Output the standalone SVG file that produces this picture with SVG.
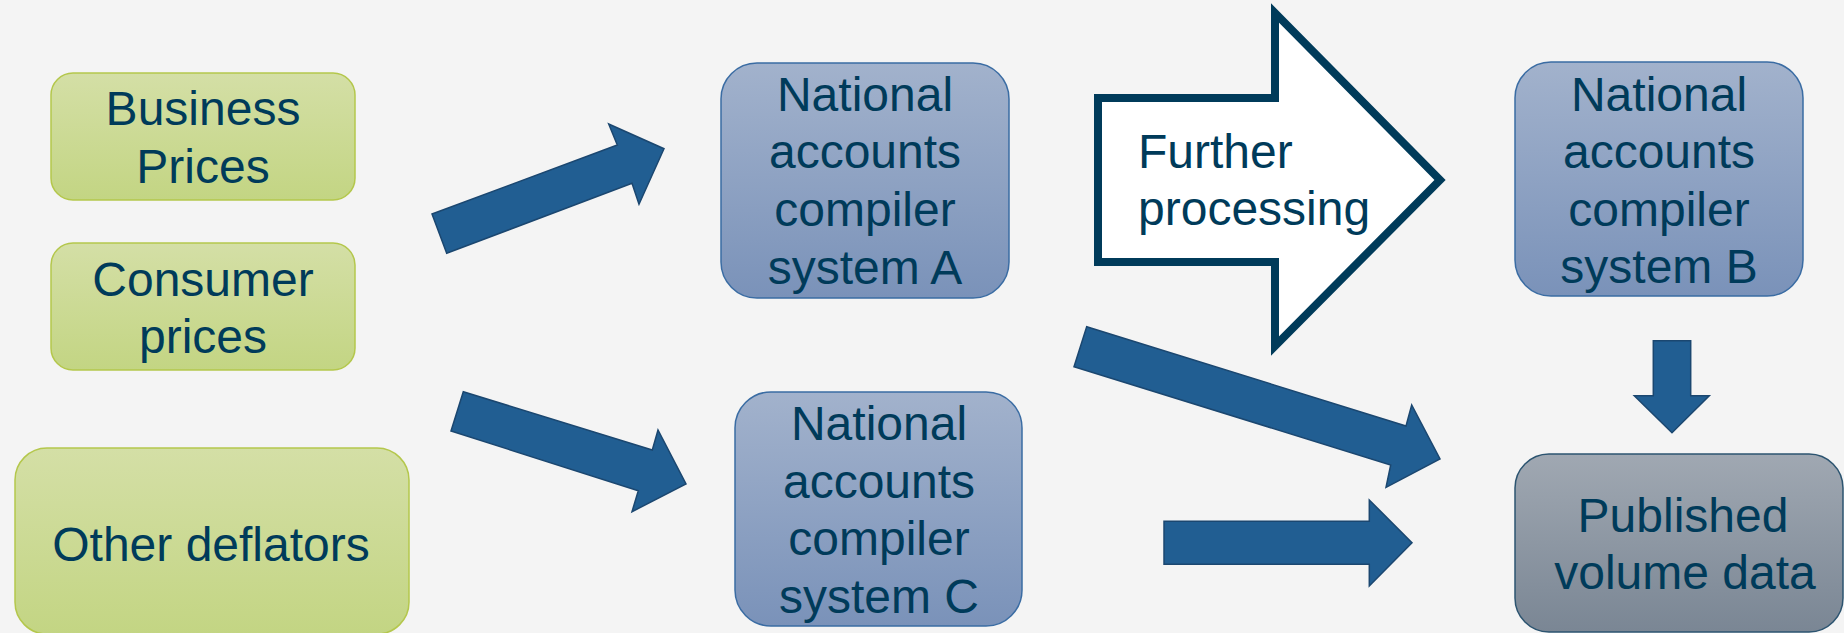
<svg xmlns="http://www.w3.org/2000/svg" width="1844" height="633" viewBox="0 0 1844 633">
<defs>
<linearGradient id="gGreen" x1="0" y1="0" x2="0" y2="1"><stop offset="0" stop-color="#d4dfa6"/><stop offset="1" stop-color="#c3d583"/></linearGradient>
<linearGradient id="gBlue" x1="0" y1="0" x2="0" y2="1"><stop offset="0" stop-color="#a2b2cc"/><stop offset="1" stop-color="#7a92b9"/></linearGradient>
<linearGradient id="gGray" x1="0" y1="0" x2="0" y2="1"><stop offset="0" stop-color="#a0a8b2"/><stop offset="1" stop-color="#7a8694"/></linearGradient>
<style>
.t{font-family:"Liberation Sans",Arial,sans-serif;font-size:48px;fill:#003b5a;text-anchor:middle}
.tl{font-family:"Liberation Sans",Arial,sans-serif;font-size:48px;fill:#003b5a}
.green{fill:url(#gGreen);stroke:#b4c74c;stroke-width:1.5}
.blue{fill:url(#gBlue);stroke:#3a6ca3;stroke-width:1.5}
.gray{fill:url(#gGray);stroke:#2c5470;stroke-width:1.5}
.arr{fill:#215e92;stroke:#1b4770;stroke-width:1.5;stroke-linejoin:miter}
</style>
</defs>
<rect width="1844" height="633" fill="#f4f4f4"/>
<g id="business">
<rect class="green" x="51" y="73" width="304" height="127" rx="22"/>
<text class="t" x="203" y="125">Business</text>
<text class="t" x="203" y="183">Prices</text>
</g>
<g id="consumer">
<rect class="green" x="51" y="243" width="304" height="127" rx="22"/>
<text class="t" x="203" y="296">Consumer</text>
<text class="t" x="203" y="353">prices</text>
</g>
<g id="other">
<rect class="green" x="15" y="448" width="394" height="186" rx="32"/>
<text class="t" x="211" y="561">Other deflators</text>
</g>
<g id="systemA">
<rect class="blue" x="721" y="63" width="288" height="235" rx="36"/>
<text class="t" x="865" y="111">National</text>
<text class="t" x="865" y="168">accounts</text>
<text class="t" x="865" y="226">compiler</text>
<text class="t" x="865" y="284">system A</text>
</g>
<g id="systemC">
<rect class="blue" x="735" y="392" width="287" height="234" rx="36"/>
<text class="t" x="879" y="440">National</text>
<text class="t" x="879" y="498">accounts</text>
<text class="t" x="879" y="555">compiler</text>
<text class="t" x="879" y="613">system C</text>
</g>
<g id="systemB">
<rect class="blue" x="1515" y="62" width="288" height="234" rx="36"/>
<text class="t" x="1659" y="111">National</text>
<text class="t" x="1659" y="168">accounts</text>
<text class="t" x="1659" y="226">compiler</text>
<text class="t" x="1659" y="283">system B</text>
</g>
<g id="published">
<rect class="gray" x="1515" y="454" width="328" height="178" rx="34"/>
<text class="t" x="1683" y="532">Published</text>
<text class="t" x="1685" y="589">volume data</text>
</g>
<g id="further">
<polygon points="1098,98 1275,98 1275,13 1440,180 1275,346 1275,262 1098,262" fill="#ffffff" stroke="#003b5a" stroke-width="8" stroke-linejoin="miter"/>
<text class="tl" x="1138" y="168">Further</text>
<text class="tl" x="1138" y="225">processing</text>
</g>
<g id="connectors">
<polygon class="arr" points="446.7,253.3 432,214 617.3,145 608.7,124 664,148.7 639,204.3 632,183.3"/>
<polygon class="arr" points="463.3,391.7 451,431 638.3,490.7 632,511.7 686,484 658,430 652.3,450"/>
<polygon class="arr" points="1086.7,326.7 1074,366.7 1390.7,465 1386,487.3 1440,459 1411.7,405 1406,426"/>
<polygon class="arr" points="1164,521.3 1369.3,521.3 1369.3,500 1412,542.7 1369.3,586 1369.3,564.3 1164,564.3"/>
<polygon class="arr" points="1653.3,340.7 1690.7,340.7 1690.7,395.7 1709.3,395.7 1672,432.7 1634.3,395.7 1653.3,395.7"/>
</g>
</svg>
